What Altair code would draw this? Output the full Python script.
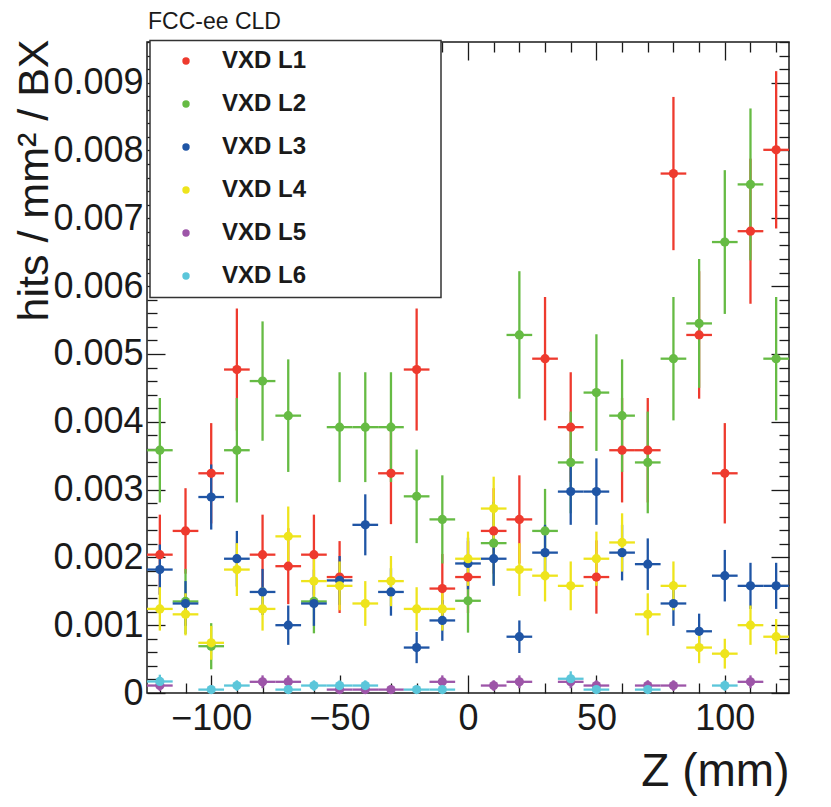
import altair as alt
import pandas as pd

# bin centres (mm), bin width 10 mm
z = [-120, -110, -100, -90, -80, -70, -60, -50, -40, -30, -20, -10, 0,
     10, 20, 30, 40, 50, 60, 70, 80, 90, 100, 110, 120]

# values in units of 1e-3 hits / mm^2 / BX  (None = empty bin)
l1 = [2.04, 2.39, 3.24, 4.77, 2.04, 1.87, 2.04, 1.71, None, 3.24, 4.77, 1.54, 1.71,
      2.39, 2.56, 4.93, 3.92, 1.71, 3.58, 3.58, 7.66, 5.28, 3.24, 6.81, 8.01]
l1_err = [0.59, 0.63, 0.74, 0.90, 0.59, 0.56, 0.59, 0.53, None, 0.75, 0.90, 0.51, 0.53,
          0.63, 0.65, 0.91, 0.81, 0.54, 0.77, 0.77, 1.13, 0.94, 0.74, 1.07, 1.16]

l2 = [3.58, 1.35, 0.69, 3.58, 4.60, 4.09, 1.35, 3.92, 3.92, 3.92, 2.90, 2.56, 1.36,
      2.21, 5.28, 2.39, 3.40, 4.43, 4.09, 3.40, 4.93, 5.45, 6.65, 7.50, 4.93]
l2_err = [0.77, 0.48, 0.34, 0.77, 0.88, 0.83, 0.47, 0.81, 0.81, 0.81, 0.69, 0.65, 0.47,
          0.61, 0.94, 0.62, 0.75, 0.86, 0.83, 0.75, 0.91, 0.95, 1.06, 1.12, 0.91]

l3 = [1.82, 1.32, 2.89, 1.98, 1.49, 1.00, 1.32, 1.66, 2.48, 1.49, 0.67, 1.07, 1.91,
      1.98, 0.83, 2.07, 2.97, 2.97, 2.07, 1.90, 1.32, 0.91, 1.73, 1.58, 1.58]
l3_err = [0.37, 0.33, 0.48, 0.41, 0.34, 0.29, 0.33, 0.36, 0.45, 0.35, 0.23, 0.30, 0.38,
          0.40, 0.24, 0.41, 0.49, 0.49, 0.41, 0.38, 0.33, 0.26, 0.38, 0.34, 0.34]

l4 = [1.24, 1.16, 0.74, 1.82, 1.24, 2.31, 1.65, 1.58, 1.32, 1.65, 1.24, 1.24, 1.98,
      2.72, 1.82, 1.73, 1.58, 1.98, 2.22, 1.16, 1.58, 0.67, 0.58, 1.00, 0.83]
l4_err = [0.32, 0.31, 0.25, 0.39, 0.32, 0.44, 0.37, 0.36, 0.33, 0.37, 0.32, 0.32, 0.40,
          0.47, 0.39, 0.38, 0.36, 0.40, 0.43, 0.31, 0.36, 0.23, 0.22, 0.29, 0.26]

l5 = [0.11, None, None, None, 0.165, 0.165, None, 0.05, 0.05, 0.05, None, 0.165, None,
      0.11, 0.165, None, 0.165, 0.11, None, 0.11, 0.11, None, None, 0.165, None]
l5_err = [0.078, None, None, None, 0.095, 0.095, None, 0.055, 0.055, 0.055, None, 0.095, None,
          0.078, 0.095, None, 0.095, 0.078, None, 0.078, 0.078, None, None, 0.095, None]

l6 = [0.17, None, 0.05, 0.11, None, 0.05, 0.11, 0.11, 0.11, None, 0.05, 0.05, None,
      None, None, None, 0.21, 0.05, None, 0.05, None, None, 0.11, None, None]
l6_err = [0.10, None, 0.05, 0.077, None, 0.05, 0.077, 0.077, 0.077, None, 0.05, 0.05, None,
          None, None, None, 0.11, 0.05, None, 0.05, None, None, 0.077, None, None]

names = ["VXD L1", "VXD L2", "VXD L3", "VXD L4", "VXD L5", "VXD L6"]
colors = ["#ee3a2e", "#66bb44", "#1f55a5", "#eee41c", "#9d55a8", "#5bc6da"]
series = [(l1, l1_err), (l2, l2_err), (l3, l3_err), (l4, l4_err), (l5, l5_err), (l6, l6_err)]

x_major = [-100, -50, 0, 50, 100]
x_minor = [-120, -110, -90, -80, -70, -60, -40, -30, -20, -10,
           10, 20, 30, 40, 60, 70, 80, 90, 110, 120]
y_major = [0, 0.001, 0.002, 0.003, 0.004, 0.005, 0.006, 0.007, 0.008, 0.009]
y_minor = [round(k * 0.0002, 4) for k in range(1, 49) if k % 5 != 0]

SCALE = 1e-3
HALF = 5

pts_rows, seg_rows = [], []
for name, (vals, errs) in zip(names, series):
    for zc, v, e in zip(z, vals, errs):
        if v is None:
            continue
        pts_rows.append({"series": name, "z": zc, "v": v * SCALE})
        seg_rows.append({"series": name, "x": zc, "x2": zc,
                         "y": max(v - e, 0) * SCALE, "y2": (v + e) * SCALE})
        seg_rows.append({"series": name, "x": zc - HALF, "x2": zc + HALF,
                         "y": v * SCALE, "y2": v * SCALE})
pts = pd.DataFrame(pts_rows)
segs = pd.DataFrame(seg_rows)
dummy = pd.DataFrame({"z": [0], "v": [0]})
one = pd.DataFrame({"a": [0]})

FONT = "Liberation Sans"
INK = "#1a1a1a"
xs = alt.Scale(domain=[-125, 125], nice=False, zero=False)
ys = alt.Scale(domain=[0, 0.0096], nice=False, zero=False)
cs = alt.Scale(domain=names, range=colors)

# error bars, one layer per detector layer (constant colour)
bar_layers = []
for name, col in zip(names, colors):
    bar_layers.append(
        alt.Chart(segs).transform_filter(alt.datum.series == name)
        .mark_rule(strokeWidth=2.3, strokeCap="butt", color=col).encode(
            x=alt.X("x:Q", scale=xs, axis=None),
            x2="x2:Q",
            y=alt.Y("y:Q", scale=ys, axis=None),
            y2="y2:Q",
        )
    )

legend = alt.Legend(
    orient="none", legendX=27, legendY=7, title=None, padding=0,
    symbolType="circle", symbolSize=55, symbolStrokeWidth=0,
    labelFont=FONT, labelFontSize=24, labelFontWeight="bold", labelColor=INK,
    labelOffset=24, rowPadding=19,
)

points = alt.Chart(pts).mark_circle(size=85, opacity=1).encode(
    x=alt.X("z:Q", scale=xs, axis=None),
    y=alt.Y("v:Q", scale=ys, axis=None),
    color=alt.Color("series:N", scale=cs, legend=legend),
)

box = alt.Chart(one).mark_rect(fill="white", stroke="#333333", strokeWidth=1.5).encode(
    x=alt.value(3), x2=alt.value(294), y=alt.value(-1.5), y2=alt.value(255.5)
)

label = alt.Chart(one).mark_text(
    align="left", baseline="alphabetic", font=FONT, fontSize=23, color=INK
).encode(x=alt.value(1), y=alt.value(-13), text=alt.value("FCC-ee CLD"))

tick_common = dict(domain=False, grid=False, tickColor=INK, tickWidth=1.3)

axes_main = alt.Chart(dummy).mark_point(opacity=0).encode(
    x=alt.X("z:Q", scale=xs, axis=alt.Axis(
        orient="bottom", values=x_major, tickSize=18, offset=-18,
        labelFont=FONT, labelFontSize=36, labelColor=INK, labelPadding=8,
        title="Z (mm)", titleFont=FONT, titleFontSize=46, titleFontWeight="normal",
        titleColor=INK, titleX=642, titleY=110, titleAlign="right",
        titleBaseline="alphabetic", titleAngle=0, **tick_common)),
    y=alt.Y("v:Q", scale=ys, axis=alt.Axis(
        orient="left", values=y_major, tickSize=18, offset=-18,
        labelExpr="datum.value == 0 ? '0' : format(datum.value, '.3f')",
        labelFont=FONT, labelFontSize=36, labelColor=INK, labelPadding=4,
        title="hits / mm² / BX", titleFont=FONT, titleFontSize=43,
        titleFontWeight="normal", titleColor=INK, titleAngle=-90,
        titleX=-118, titleY=-3, titleAlign="right", titleBaseline="alphabetic",
        **tick_common)),
)

axes_minor = alt.Chart(dummy).mark_point(opacity=0).encode(
    x=alt.X("z:Q", scale=xs, axis=alt.Axis(
        orient="bottom", values=x_minor, tickSize=10, offset=-10,
        labels=False, title=None, **tick_common)),
    y=alt.Y("v:Q", scale=ys, axis=alt.Axis(
        orient="left", values=y_minor, tickSize=10, offset=-10,
        labels=False, title=None, **tick_common)),
)

axes_opp = alt.Chart(dummy).mark_point(opacity=0).encode(
    x=alt.X("z:Q", scale=xs, axis=alt.Axis(
        orient="top", values=x_major, tickSize=18, offset=-18,
        labels=False, title=None, **tick_common)),
    y=alt.Y("v:Q", scale=ys, axis=alt.Axis(
        orient="right", values=y_major, tickSize=18, offset=-18,
        labels=False, title=None, **tick_common)),
)

axes_opp_minor = alt.Chart(dummy).mark_point(opacity=0).encode(
    x=alt.X("z:Q", scale=xs, axis=alt.Axis(
        orient="top", values=x_minor, tickSize=10, offset=-10,
        labels=False, title=None, **tick_common)),
    y=alt.Y("v:Q", scale=ys, axis=alt.Axis(
        orient="right", values=y_minor, tickSize=10, offset=-10,
        labels=False, title=None, **tick_common)),
)

chart = alt.layer(
    axes_main, axes_minor, axes_opp, axes_opp_minor, box, *bar_layers, points, label
).resolve_axis(
    x="independent", y="independent"
).properties(
    width=642, height=651,
    padding={"left": 139, "top": 34, "right": 30, "bottom": 108},
    autosize=alt.AutoSizeParams(type="none"),
).configure_view(stroke=INK, strokeWidth=1.5)

chart.save("out.html", embed_options={"renderer": "svg", "actions": False})
